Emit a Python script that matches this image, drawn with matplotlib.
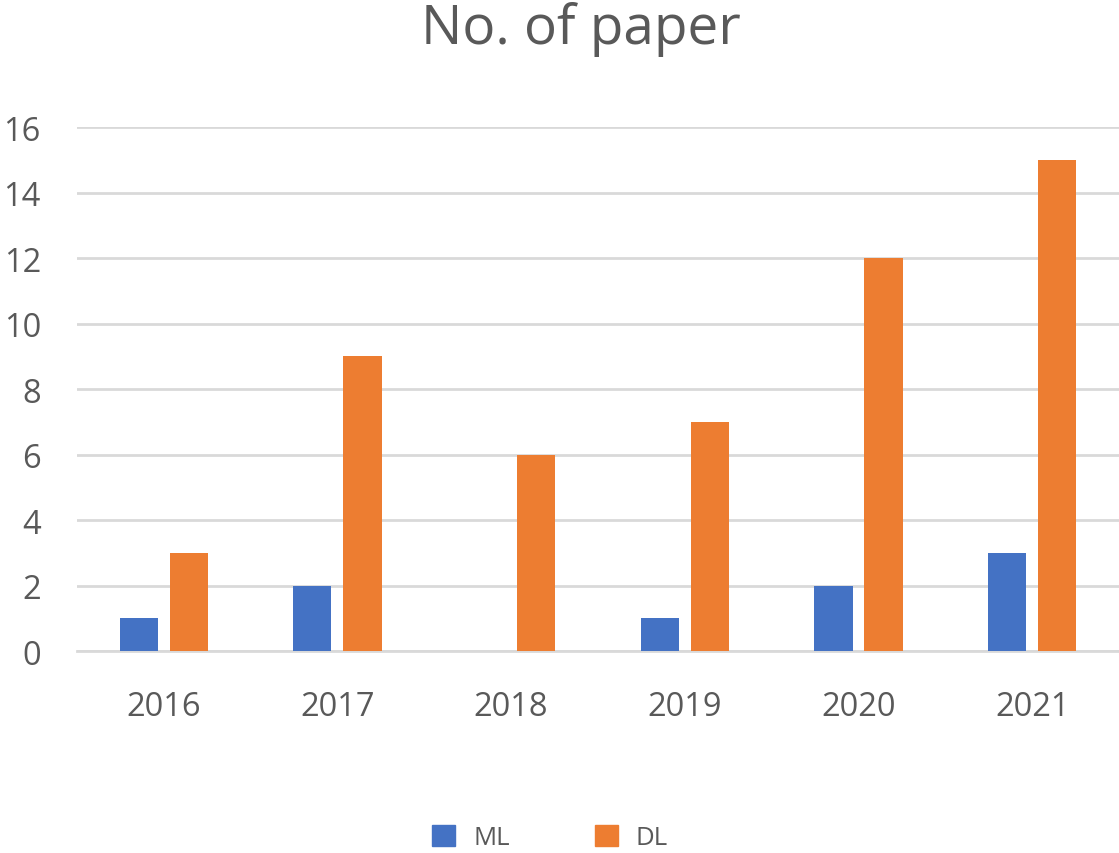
import numpy as np
import matplotlib.pyplot as plt
from matplotlib.patches import Patch

# --- Data ---
years = ["2016", "2017", "2018", "2019", "2020", "2021"]
ml_papers = [1, 2, 0, 1, 2, 3]
dl_papers = [3, 9, 6, 7, 12, 15]

TEXT = "#595959"
GRID = "#D9D9D9"
BLUE = "#4472C4"
ORANGE = "#ED7D31"

plt.rcParams["font.family"] = ["Open Sans", "DejaVu Sans"]

fig = plt.figure(figsize=(11.19, 8.54), dpi=100)
ax = fig.add_axes([0.0688, 0.2365, 0.9312, 0.6135])

x = np.arange(len(years))
width = 0.219
offset = 0.144
ax.bar(x - offset, ml_papers, width, color=BLUE, zorder=3)
ax.bar(x + offset, dl_papers, width, color=ORANGE, zorder=3)

ax.set_xlim(-0.5, len(years) - 0.5)
ax.set_ylim(0, 16)
ax.set_yticks(range(0, 17, 2))
ax.set_xticks(x)
ax.set_xticklabels(years)

ax.yaxis.grid(True, color=GRID, linewidth=2, zorder=0)
for side in ["top", "right", "left"]:
    ax.spines[side].set_visible(False)
ax.spines["bottom"].set_color(GRID)
ax.spines["bottom"].set_linewidth(2)
ax.tick_params(axis="both", length=0, labelsize=23.5, colors=TEXT)
ax.tick_params(axis="x", pad=28)
ax.tick_params(axis="y", pad=26)

fig.text(0.519, 0.966, "No. of paper", ha="center", va="center",
         fontsize=39.5, color=TEXT)

handles = [Patch(color=BLUE, label="ML"), Patch(color=ORANGE, label="DL")]
fig.legend(handles=handles, loc="center", bbox_to_anchor=(0.4915, 0.018),
           ncol=2, frameon=False, fontsize=18.5, labelcolor=TEXT,
           handlelength=0.9, handleheight=0.9, columnspacing=3.3,
           handletextpad=0.7)

fig.savefig("out.png", dpi=100)
